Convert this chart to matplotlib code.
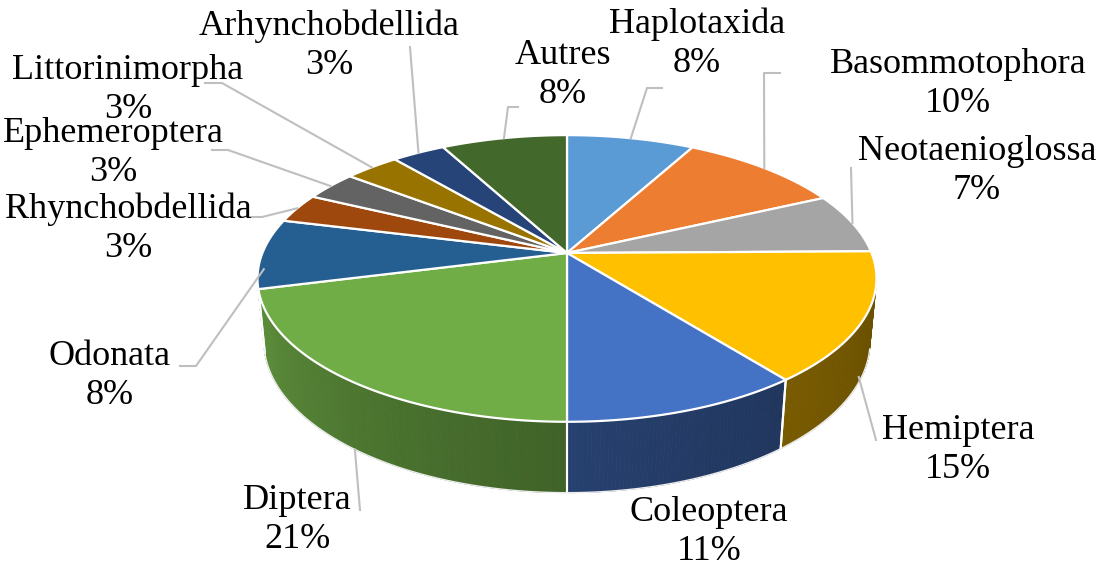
import numpy as np
import matplotlib.pyplot as plt
from matplotlib.patches import Polygon
from matplotlib.colors import to_rgb

# parts (%)
ordres = ["Haplotaxida", "Basommotophora", "Neotaenioglossa", "Hemiptera",
          "Coleoptera", "Diptera", "Odonata", "Rhynchobdellida",
          "Ephemeroptera", "Littorinimorpha", "Arhynchobdellida", "Autres"]
parts = [7.9, 10.1, 6.8, 14.6, 10.6, 21.0, 7.9, 3.3, 3.3, 3.4, 3.3, 7.8]
couleurs = ["#5B9BD5", "#ED7D31", "#A5A5A5", "#FFC000", "#4472C4", "#70AD47",
            "#255E91", "#9E480E", "#636363", "#997300", "#264478", "#43682B"]

# position des etiquettes (centre du bloc) et coude des lignes de rappel
pos_etiq = [(697, 44), (958, 84), (977, 171), (958, 450), (709, 532), (297, 520),
            (110, 376), (128, 229), (113, 153), (128, 90), (329, 46), (563, 75)]
coudes = [[(662, 88), (647, 88)], [(780, 73), (764, 73)], [(851, 168)], [(876, 440)],
          None, [(360, 510)], [(180, 366), (196, 366)], [(250, 217), (262, 217)],
          [(212, 150), (228, 150)], [(205, 83), (222, 83)], [(410, 47)],
          [(518, 107), (508, 107)]]
z_rappel = [0, 0, 0, 0.9, 0, 1, 0.25, 0, 0, 0, 0, 0]

# camera (en pixels)
cx, cy = 567, 253
fx, fy = 1532, 1554
D = 5.03
elev = np.radians(26.7)
h = 0.229
ce, se = np.cos(elev), np.sin(elev)


def proj(t, z):
    x = np.cos(t)
    y = np.sin(t)
    depth = y * ce - z * se + D
    return cx + fx * x / depth, cy - fy * (y * se + z * ce) / depth


def shade(t):
    u = (np.degrees(t) + 167.1) / 154.2
    u = np.clip(u, 0, 1)
    return 0.42 + 0.42 * (1 - u) ** 1.5


fig = plt.figure(figsize=(11.1, 5.73), dpi=100)
ax = fig.add_axes([0, 0, 1, 1])
ax.set_xlim(0, 1110)
ax.set_ylim(573, 0)
ax.axis("off")

total = sum(parts)
cum = np.concatenate([[0], np.cumsum(parts)]) / total
t_deb = np.pi / 2 - 2 * np.pi * cum[:-1]
t_fin = np.pi / 2 - 2 * np.pi * cum[1:]

kmin = np.radians(-167.1)
kmax = np.radians(-12.9)

# parois avant
for i in range(len(parts)):
    lo = max(t_fin[i], kmin)
    hi = min(t_deb[i], kmax)
    if lo >= hi:
        continue
    base = np.array(to_rgb(couleurs[i]))
    ts = np.linspace(lo, hi, 60)
    for a, b in zip(ts[:-1], ts[1:]):
        p = [proj(a, 0), proj(b, 0), proj(b, -h), proj(a, -h)]
        col = base * shade((a + b) / 2)
        ax.add_patch(Polygon(p, closed=True, facecolor=col, edgecolor=col, lw=0.6))
    for t in (lo, hi):
        if kmin < t < kmax:
            ax.plot(*zip(proj(t, 0), proj(t, -h)), color="white", lw=1.5)

ts = np.linspace(kmin, kmax, 200)
bas = np.array([proj(t, -h) for t in ts])
ax.plot(bas[:, 0], bas[:, 1], color="#EDEDED", lw=1)

# dessus
for i in range(len(parts)):
    ts = np.linspace(t_deb[i], t_fin[i], 80)
    p = [(cx, cy)] + [proj(t, 0) for t in ts]
    ax.add_patch(Polygon(p, closed=True, facecolor=couleurs[i], edgecolor="white",
                         lw=1.6, joinstyle="round"))

# etiquettes et lignes de rappel
for i, nom in enumerate(ordres):
    pct = int(round(parts[i] / total * 100))
    ax.text(pos_etiq[i][0], pos_etiq[i][1], f"{nom}\n{pct}%", ha="center", va="center",
            fontsize=26, family="Liberation Serif", linespacing=1.25, color="black")
    if coudes[i] is None:
        continue
    tm = (t_deb[i] + t_fin[i]) / 2
    pts = coudes[i] + [proj(tm, -z_rappel[i] * h)]
    xs, ys = zip(*pts)
    ax.plot(xs, ys, color="#BFBFBF", lw=1.5)

plt.savefig("out.png", dpi=100)
